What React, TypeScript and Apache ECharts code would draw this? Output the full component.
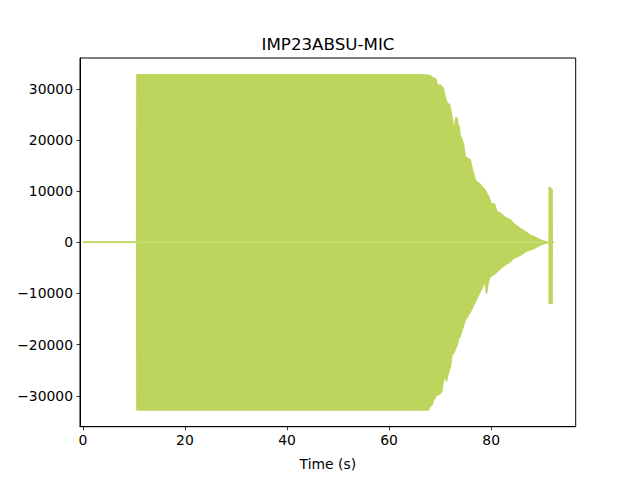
import React, { useEffect, useRef } from "react";
import * as echarts from "echarts";

const titleText = "IMP23ABSU-MIC";
const xLabel = "Time (s)";
const xTicks = [0, 20, 40, 60, 80];
const yTicks = [-30000, -20000, -10000, 0, 10000, 20000, 30000];

// upper envelope: [time s, value]
const upperEnv: [number, number][] = [
  [0, 0], [10.55, 0], [10.6, 32767], [66.1, 32767], [67.1, 32700], [68.0, 32600],
  [68.4, 32300], [69.2, 31900], [69.4, 30900], [69.7, 30600], [70.0, 30800],
  [70.6, 30100], [71.0, 28400], [71.4, 27100], [71.8, 27000], [72.0, 26200],
  [72.3, 24500], [72.6, 22600], [72.9, 22900], [73.05, 24300], [73.3, 24300],
  [73.5, 22900], [73.7, 22600], [73.9, 21000], [74.3, 20000], [74.6, 19000],
  [74.9, 16700], [75.5, 16400], [75.9, 16100], [76.1, 15100], [76.5, 13500],
  [76.9, 12200], [77.2, 11800], [77.7, 11500], [78.2, 10900], [78.8, 10200],
  [79.5, 8900], [80.1, 7300], [80.6, 7600], [81.1, 6000], [81.8, 5700],
  [82.7, 4900], [83.7, 4400], [84.7, 3400], [85.7, 2700], [86.7, 2100],
  [87.6, 1400], [88.6, 1000], [89.6, 450], [90.2, 250], [90.9, 60],
  [91.35, 0], [91.36, 10800], [91.93, 10300], [91.94, 0], [92.3, 0],
];

// lower envelope: [time s, value]
const lowerEnv: [number, number][] = [
  [0, 0], [10.55, 0], [10.6, -32768], [67.7, -32768], [68.0, -32100],
  [68.4, -31800], [68.7, -30800], [69.4, -29800], [69.7, -29800], [70.3, -29200],
  [70.6, -27200], [71.0, -25600], [71.2, -27200], [71.5, -25900], [72.0, -24300],
  [72.3, -22000], [72.6, -21700], [73.3, -20100], [73.6, -18800], [73.9, -18400],
  [74.3, -17100], [74.9, -15200], [75.9, -13600], [76.9, -11600], [77.8, -9700],
  [78.8, -7700], [79.1, -10000], [79.4, -7800], [79.8, -6700], [80.8, -6100],
  [81.8, -5100], [82.7, -4400], [83.7, -3800], [84.4, -3100], [85.7, -2500],
  [86.7, -1800], [88.3, -1200], [89.6, -530], [90.9, -80],
  [91.35, 0], [91.36, -11900], [91.93, -11900], [91.94, 0], [92.3, 0],
];

const waveColor = "#bdd55c";

const fmt = (v: number) => String(v).replace("-", "\u2212");

export default function App() {
  const ref = useRef<HTMLDivElement>(null);
  useEffect(() => {
    if (!ref.current) return;
    const chart = echarts.init(ref.current, null, { renderer: "svg" });
    const font = "DejaVu Sans";
    chart.setOption({
      animation: false,
      backgroundColor: "#ffffff",
      title: {
        text: titleText,
        left: 323,
        top: 30,
        textAlign: "center",
        textStyle: { fontFamily: font, fontSize: 16.7, fontWeight: "normal", color: "#000" },
      },
      grid: {
        left: 80,
        right: 64.3,
        top: 58,
        bottom: 53.3,
        show: true,
        borderColor: "#000",
        borderWidth: 1,
        backgroundColor: "transparent",
      },
      xAxis: {
        type: "value",
        min: -0.55,
        max: 96.55,
        name: xLabel,
        nameLocation: "middle",
        nameGap: 30,
        nameTextStyle: { fontFamily: font, fontSize: 13.9, color: "#000" },
        splitLine: { show: false },
        axisLine: { show: true, onZero: false, lineStyle: { color: "#000", width: 1 } },
        axisTick: { show: true, length: 3.5, lineStyle: { color: "#000", width: 0.8 }, customValues: xTicks },
        axisLabel: { fontFamily: font, fontSize: 13.9, color: "#000", margin: 6, customValues: xTicks, formatter: fmt },
      },
      yAxis: {
        type: "value",
        min: -36045,
        max: 36044,
        splitLine: { show: false },
        axisLine: { show: true, onZero: false, lineStyle: { color: "#000", width: 1 } },
        axisTick: { show: true, length: 3.5, lineStyle: { color: "#000", width: 0.8 }, customValues: yTicks },
        axisLabel: { fontFamily: font, fontSize: 13.9, color: "#000", margin: 7, customValues: yTicks, formatter: fmt },
      },
      series: [
        {
          type: "line",
          data: upperEnv,
          symbol: "none",
          lineStyle: { color: waveColor, width: 1.5 },
          areaStyle: { color: waveColor, opacity: 1, origin: "auto" },
          z: 2,
        },
        {
          type: "line",
          data: lowerEnv,
          symbol: "none",
          lineStyle: { color: waveColor, width: 1.5 },
          areaStyle: { color: waveColor, opacity: 1, origin: "auto" },
          z: 2,
        },
      ],
    });
    return () => chart.dispose();
  }, []);
  return (
    <div
      ref={ref}
      style={{ position: "fixed", left: 0, top: 0, width: 640, height: 480 }}
    />
  );
}
